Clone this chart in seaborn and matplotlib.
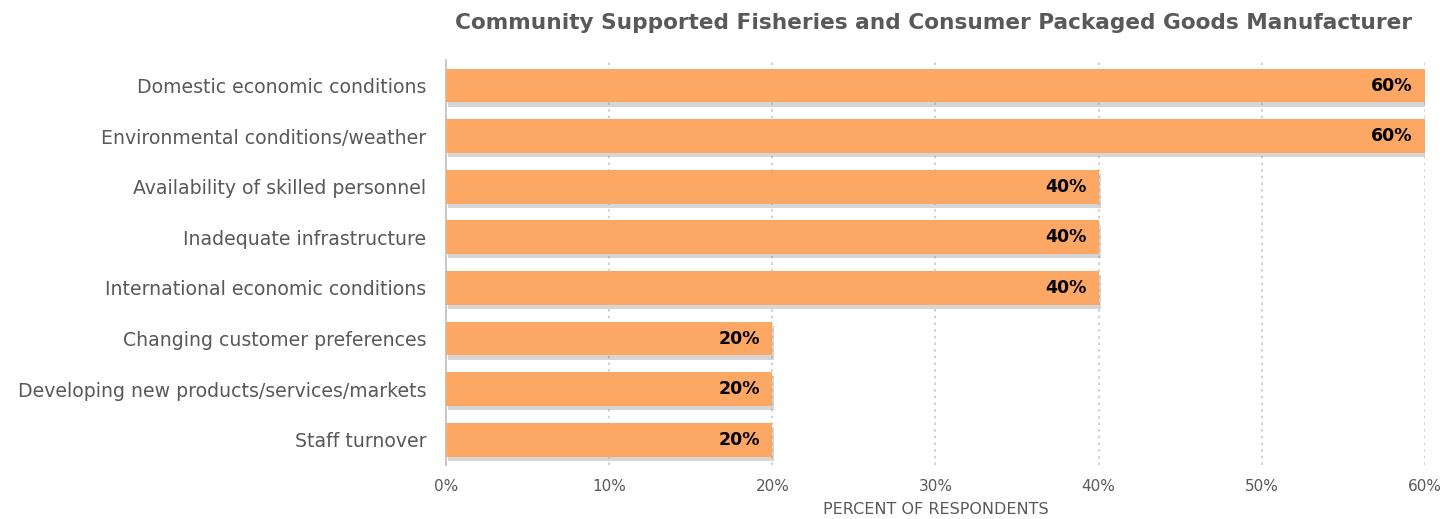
import matplotlib
matplotlib.use("Agg")
import matplotlib.pyplot as plt
import matplotlib.patheffects as pe
from matplotlib.ticker import PercentFormatter
import seaborn as sns
import pandas as pd

categories = [
    "Domestic economic conditions",
    "Environmental conditions/weather",
    "Availability of skilled personnel",
    "Inadequate infrastructure",
    "International economic conditions",
    "Changing customer preferences",
    "Developing new products/services/markets",
    "Staff turnover",
]
percent = [60, 60, 40, 40, 40, 20, 20, 20]
x_ticks = [0, 10, 20, 30, 40, 50, 60]

title = "Community Supported Fisheries and Consumer Packaged Goods Manufacturer"
x_label = "PERCENT OF RESPONDENTS"

df = pd.DataFrame({"category": categories, "percent": percent})

sns.set_theme(style="white")
plt.rcParams["font.family"] = ["DejaVu Sans"]

text_gray = "#595959"
bar_color = "#FDA765"

fig = plt.figure(figsize=(14.55, 5.19), dpi=100)
ax = fig.add_axes([0.3065, 0.104, 0.9794 - 0.3065, 0.884 - 0.104])

sns.barplot(data=df, x="percent", y="category", orient="h", color=bar_color,
            saturation=1, width=0.67, ax=ax, zorder=3)

for patch in ax.patches:
    patch.set_edgecolor("none")
    patch.set_path_effects([
        pe.SimplePatchShadow(offset=(1.5, -3), shadow_rgbFace="#8a8a8a", alpha=0.35),
        pe.Normal(),
    ])

for patch, val in zip(ax.patches, percent):
    y = patch.get_y() + patch.get_height() / 2
    ax.text(val - 0.75, y, f"{val}%", ha="right", va="center",
            fontsize=12.5, fontweight="bold", color="black", zorder=5)

ax.set_xlim(0, 60)
ax.set_ylim(7.5, -0.5)
ax.set_xticks(x_ticks)
ax.xaxis.set_major_formatter(PercentFormatter(decimals=0))
ax.grid(axis="x", color="#c8c8c8", linestyle=(0, (1.5, 2.5)), linewidth=1.2, zorder=0)
ax.grid(axis="y", visible=False)

for side in ["top", "right", "bottom"]:
    ax.spines[side].set_visible(False)
ax.spines["left"].set_color("#bfbfbf")
ax.spines["left"].set_linewidth(1.2)

ax.tick_params(axis="x", length=0, pad=10, labelsize=11, labelcolor=text_gray)
ax.tick_params(axis="y", length=0, pad=14, labelsize=13.6, labelcolor=text_gray)

ax.set_ylabel("")
ax.set_xlabel(x_label, fontsize=11.5, color=text_gray, labelpad=6)

fig.text(0.6416, 0.955, title, ha="center", va="center", fontsize=15.6,
         fontweight="bold", color=text_gray)

fig.savefig("out.png", dpi=100)
